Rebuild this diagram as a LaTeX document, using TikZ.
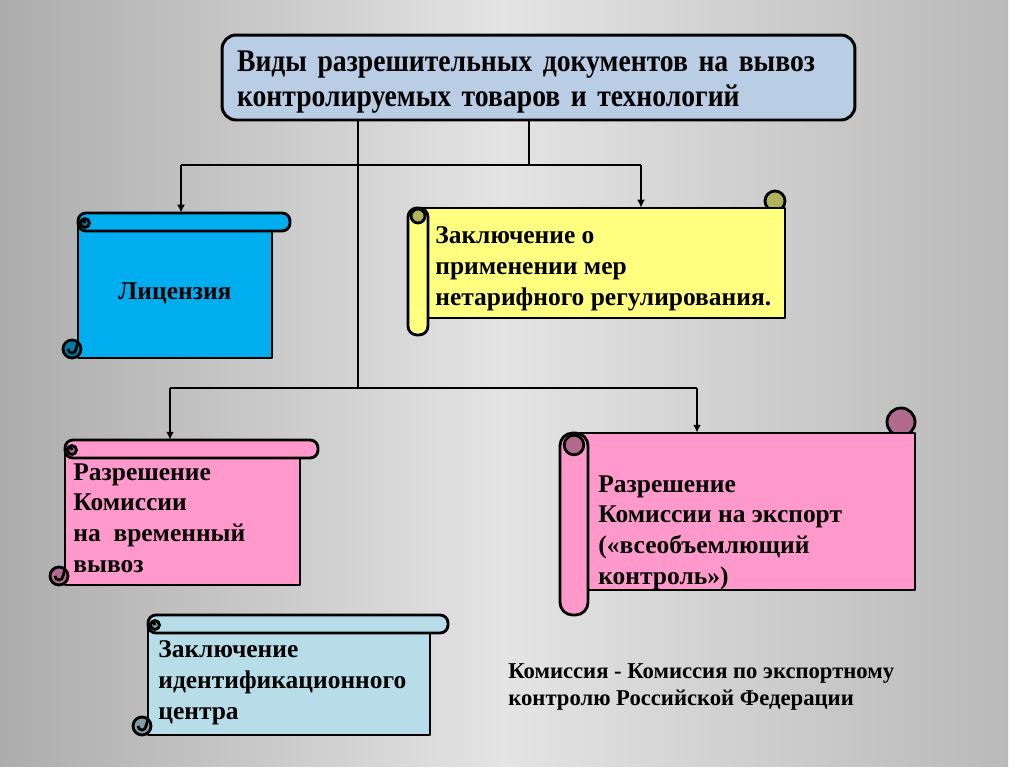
\documentclass[tikz,border=0pt]{standalone}
\usepackage{fontspec}
\setmainfont{Liberation Serif}
\newfontfamily\titlefont[FakeStretch=0.88,WordSpace=0.6]{Liberation Serif}
\usepackage{xcolor}
\usetikzlibrary{fit,arrows.meta}
\definecolor{bgleft}{HTML}{ACACAC}
\definecolor{bgmid}{HTML}{E4E4E4}
\definecolor{bgright}{HTML}{B9B9B9}
\definecolor{titleblue}{HTML}{B9CDE5}
\definecolor{licblue}{HTML}{00AEEF}
\definecolor{conclyellow}{HTML}{FFFF80}
\definecolor{permpink}{HTML}{FF99CC}
\definecolor{identblue}{HTML}{B7DEE8}

% horizontal scroll: name, left, top, right, bottom, colour
\newcommand{\hscroll}[6]{%
\filldraw[scroll,fill=#6] (#2,#3+9) rectangle (#4,#5);
\filldraw[scroll,fill=#6,rounded corners=4.5pt] (#2,#3) rectangle (#4+18,#3+18);
\filldraw[scroll,fill=#6!70!black] (#2+7,#3+10) circle[radius=0.09cm];
\draw[scroll] (#2,#3+10) -- (#2+2,#3+10) arc[start angle=180,end angle=0,radius=0.05cm];
\filldraw[scroll,fill=#6!70!black] (#2-6,#5-9) circle[radius=0.18cm];
\draw[scroll] (#2-10,#5-9) arc[start angle=180,end angle=360,radius=0.08cm] -- (#2,#5-16);
\node[fit={(#2,#3) (#4,#5)},inner sep=0pt] (#1) {};
}
% vertical scroll: name, left, top, right, bottom, colour, roll width
\newcommand{\vscroll}[7]{%
\filldraw[scroll,fill=#6!70!black] (#4-#7/2,#3-#7/2+3) circle[radius={#7*0.1mm}];
\filldraw[scroll,fill=#6] (#2+#7/2,#3) rectangle (#4,#5);
\filldraw[scroll,fill=#6,rounded corners={#7*0.09mm}] (#2,#3) rectangle (#2+#7,#5+#7-3);
\filldraw[scroll,fill=#6!70!black] (#2+#7/2,#3+#7/2-2) circle[radius={#7*0.07mm}];
\node[fit={(#2+#7/2,#3) (#4,#5)},inner sep=0pt] (#1) {};
}

\begin{document}
\begin{tikzpicture}[x=0.02cm,y=-0.02cm,
  scroll/.style={line width=1.6pt,line join=round},
  link/.style={line width=1.4pt},
  arrow/.style={link,-{Latex[length=4.5pt,width=4.5pt]}},
  txt/.style={anchor=north west,inner sep=0pt,align=left,font=\bfseries\fontsize{14.5}{17.6}\selectfont},
  titlebox/.style={draw,line width=1.7pt,fill=titleblue,rounded corners=8pt,
    text width=12.06cm,inner xsep=0.3cm,minimum height=1.7cm,align=left,
    font=\titlefont\bfseries\fontsize{17.9}{19.8}\selectfont}]
\useasboundingbox (0,0) rectangle (1024,768);
\fill[white] (0,0) rectangle (1024,768);
\shade[left color=bgleft,right color=bgright,middle color=bgmid] (0,0) rectangle (1008,766);

\node[titlebox] (title) at (538.5,77.5) {\rule{0pt}{17pt}Виды разрешительных документов на вывоз\\контролируемых товаров и технологий};

\hscroll{lic}{78}{213}{272}{358}{licblue}
\vscroll{concl}{408}{208}{785}{318}{conclyellow}{20}
\hscroll{tempexp}{65}{440}{300}{585}{permpink}
\vscroll{exportall}{560}{433}{915}{590}{permpink}{28}
\hscroll{ident}{148}{615}{430}{735}{identblue}

\node[txt,anchor=center] (lictext) at (175,293) {Лицензия};
\node[txt] (concltext) at (435,226) {Заключение о\\применении мер\\нетарифного регулирования.};
\node[txt] (tempexptext) at (73,463) {Разрешение\\Комиссии\\на~ временный\\вывоз};
\node[txt] (exportalltext) at (598,475) {Разрешение\\Комиссии на экспорт\\(«всеобъемлющий\\контроль»)};
\node[txt] (identtext) at (158,640) {Заключение\\идентификационного\\центра};
\node[txt,font=\bfseries\fontsize{12.9}{15.3}\selectfont] (note) at (508,663) {Комиссия - Комиссия по экспортному\\контролю Российской Федерации};

% connectors
\coordinate (stemA) at (529,165);
\coordinate (stemB) at (358,388);
\coordinate (forkAl) at (181,165);
\coordinate (forkAr) at (641,165);
\coordinate (forkBl) at (170,388);
\coordinate (forkBr) at (697,388);
\draw[link] (title.south -| stemA) -- (stemA);
\draw[link] (title.south -| stemB) -- (stemB);
\draw[link] (forkAl) -- (forkAr);
\draw[link] (forkBl) -- (forkBr);
\draw[arrow] (forkAl) -- (forkAl |- lic.north);
\draw[arrow] (forkAr) -- (forkAr |- concl.north);
\draw[arrow] (forkBl) -- (forkBl |- tempexp.north);
\draw[arrow] (forkBr) -- (forkBr |- exportall.north);
\end{tikzpicture}
\end{document}
